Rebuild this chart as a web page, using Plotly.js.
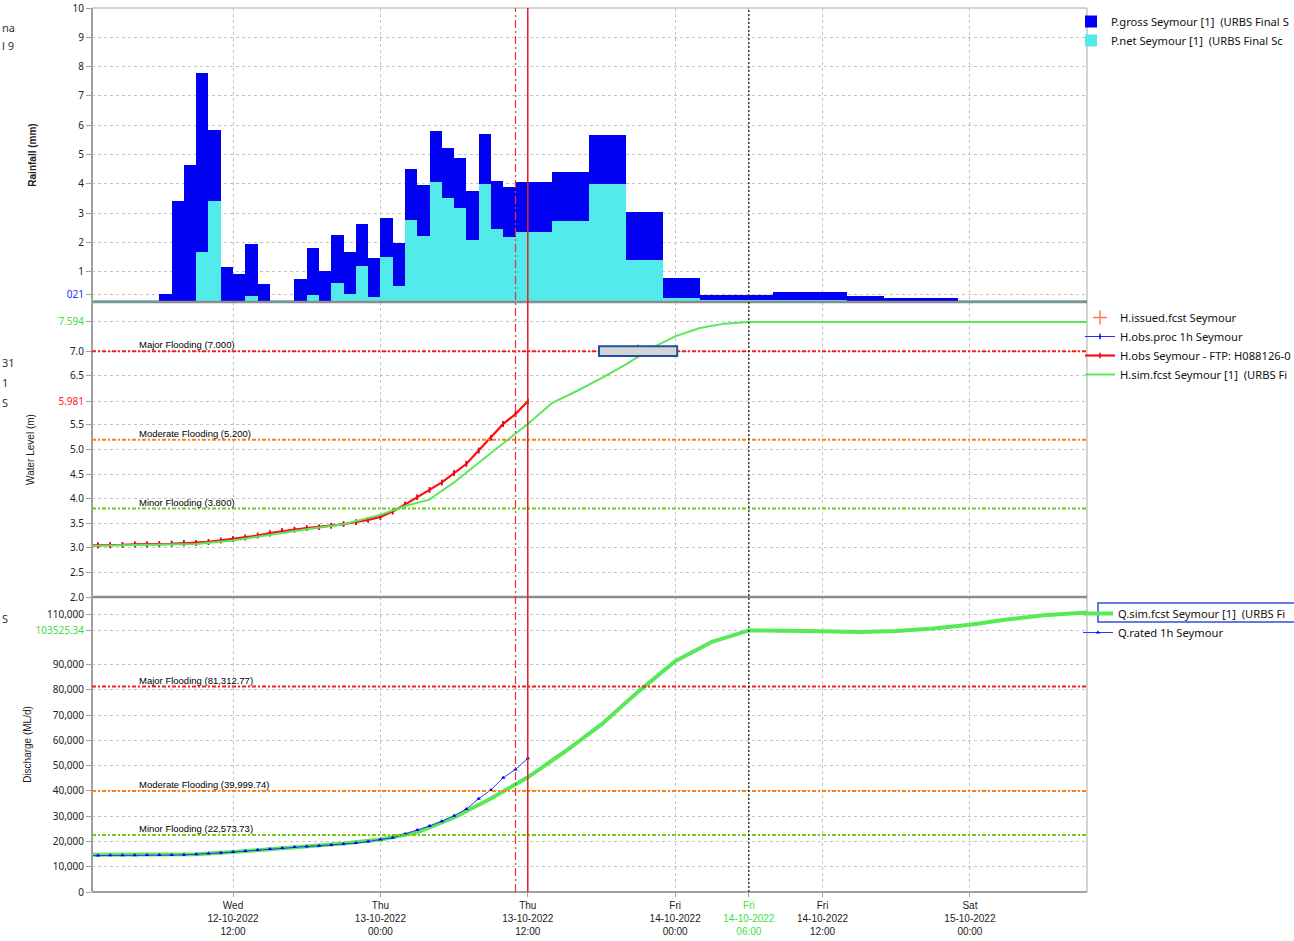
<!DOCTYPE html>
<html><head><meta charset="utf-8">
<script src="https://cdn.plot.ly/plotly-3.0.1.min.js"></script>
<style>html,body{margin:0;padding:0;background:#fff}#chart{width:1294px;height:941px}</style>
</head><body><div id="chart"></div>
<script>
// ---------------- DATA ----------------
// Rainfall periods (start time, duration in hours, gross mm, net mm)
const rainStart = ['2022-10-12 06:00','2022-10-12 07:00','2022-10-12 08:00','2022-10-12 09:00','2022-10-12 10:00','2022-10-12 11:00','2022-10-12 12:00','2022-10-12 13:00','2022-10-12 14:00','2022-10-12 17:00','2022-10-12 18:00','2022-10-12 19:00','2022-10-12 20:00','2022-10-12 21:00','2022-10-12 22:00','2022-10-12 23:00','2022-10-13 00:00','2022-10-13 01:00','2022-10-13 02:00','2022-10-13 03:00','2022-10-13 04:00','2022-10-13 05:00','2022-10-13 06:00','2022-10-13 07:00','2022-10-13 08:00','2022-10-13 09:00','2022-10-13 10:00','2022-10-13 11:00','2022-10-13 14:00','2022-10-13 17:00','2022-10-13 20:00','2022-10-13 23:00','2022-10-14 02:00','2022-10-14 08:00','2022-10-14 14:00','2022-10-14 17:00'];
const rainHours = [1,1,1,1,1,1,1,1,1,1,1,1,1,1,1,1,1,1,1,1,1,1,1,1,1,1,1,3,3,3,3,3,6,6,3,6];
const pGross = [0.25,3.41,4.66,7.77,5.84,1.18,0.92,1.96,0.59,0.74,1.81,1.03,2.25,1.67,2.62,1.48,2.85,2.00,4.51,3.96,5.81,5.22,4.88,3.77,5.69,4.10,3.89,4.07,4.40,5.66,3.03,0.80,0.20,0.32,0.16,0.10];
const pNet   = [0,0,0,1.67,3.41,0,0,0.18,0,0,0.21,0,0.62,0.26,1.21,0.15,1.49,0.50,2.77,2.23,4.07,3.51,3.18,2.09,4.00,2.45,2.18,2.37,2.74,3.99,1.41,0.12,0.03,0.03,0.02,0.02];

// Observed water level, hourly from 2022-10-12 00:00 (m)
const hObsStart = '2022-10-12 00:00';
const hObs = [3.05,3.05,3.06,3.06,3.07,3.07,3.08,3.08,3.09,3.10,3.12,3.15,3.18,3.21,3.25,3.30,3.34,3.37,3.40,3.42,3.45,3.48,3.52,3.57,3.63,3.74,3.88,4.03,4.18,4.33,4.52,4.71,4.98,5.24,5.52,5.72,5.981];
const hObsProc = [3.05,3.05,3.05,3.06,3.07,3.07,3.08,3.09,3.10,3.10,3.12,3.15,3.18,3.21,3.25,3.29,3.34,3.37,3.40,3.42,3.45,3.48,3.52,3.57,3.63,3.74,3.88,4.03,4.18,4.33,4.52,4.71,4.98,5.24,5.52,5.72,5.97];

// Simulated / forecast water level (m)
const hSimTime = ['2022-10-12 00:00','2022-10-12 06:00','2022-10-12 09:00','2022-10-12 12:00','2022-10-12 15:00','2022-10-12 18:00','2022-10-12 21:00','2022-10-13 00:00','2022-10-13 02:00','2022-10-13 04:00','2022-10-13 05:00','2022-10-13 06:00','2022-10-13 08:00','2022-10-13 10:00','2022-10-13 12:00','2022-10-13 14:00','2022-10-13 16:00','2022-10-13 18:00','2022-10-13 20:00','2022-10-13 22:00','2022-10-14 00:00','2022-10-14 02:00','2022-10-14 04:00','2022-10-14 06:00','2022-10-15 12:00'];
const hSim = [3.04,3.06,3.08,3.15,3.27,3.38,3.48,3.67,3.85,3.98,4.16,4.33,4.73,5.13,5.52,5.95,6.19,6.45,6.73,7.05,7.30,7.47,7.56,7.594,7.594];

// Issued forecast marker (m)
const issuedTime = ['2022-10-13 21:00'];
const issuedLevel = [7.0];

// Simulated / forecast discharge (ML/d)
const qSimTime = ['2022-10-12 00:00','2022-10-12 06:00','2022-10-12 09:00','2022-10-12 12:00','2022-10-12 15:00','2022-10-12 18:00','2022-10-12 21:00','2022-10-13 00:00','2022-10-13 03:00','2022-10-13 06:00','2022-10-13 09:00','2022-10-13 12:00','2022-10-13 15:00','2022-10-13 18:00','2022-10-13 21:00','2022-10-14 00:00','2022-10-14 03:00','2022-10-14 06:00','2022-10-14 09:00','2022-10-14 12:00','2022-10-14 15:00','2022-10-14 18:00','2022-10-14 21:00','2022-10-15 00:00','2022-10-15 03:00','2022-10-15 06:00','2022-10-15 10:00'];
const qSim = [14700,14700,14900,15800,17000,18300,19200,20800,23600,29500,37000,45400,55500,66300,79300,91300,99000,103500,103500,103200,102900,103300,104300,105800,107800,109500,110800];

// Rated discharge, hourly from 2022-10-12 00:00 (ML/d)
const qRatedStart = '2022-10-12 00:00';
const qRated = [14400,14400,14500,14500,14500,14600,14600,14600,14700,14900,15200,15500,15800,16200,16600,17000,17400,17800,18000,18300,18600,19000,19400,20000,20800,21500,23000,24500,26100,28000,30200,32800,36900,40400,45200,48500,52900];

// Series names (as visible in the legend, clipped at the window edge)
const seriesNames = {
  pGross:'P.gross Seymour [1]  (URBS Final S',
  pNet:'P.net Seymour [1]  (URBS Final Sc',
  hIssued:'H.issued.fcst Seymour',
  hObsProc:'H.obs.proc 1h Seymour',
  hObs:'H.obs Seymour - FTP: H088126-0',
  hSim:'H.sim.fcst Seymour [1]  (URBS Fi',
  qSim:'Q.sim.fcst Seymour [1]  (URBS Fi',
  qRated:'Q.rated 1h Seymour'
};

// Flood classification levels
const levelFlood = [{name:'Major Flooding', value:7.0, label:'7.000', color:'#ff1a1a'},
                    {name:'Moderate Flooding', value:5.2, label:'5.200', color:'#ff8010'},
                    {name:'Minor Flooding', value:3.8, label:'3.800', color:'#6ccc10'}];
const flowFlood = [{name:'Major Flooding', value:81312.77, label:'81,312.77', color:'#ff1a1a'},
                   {name:'Moderate Flooding', value:39999.74, label:'39,999.74', color:'#ff8010'},
                   {name:'Minor Flooding', value:22573.73, label:'22,573.73', color:'#6ccc10'}];

// Time markers
const forecastTime = '2022-10-13 12:00';
const issueLagTime = '2022-10-13 11:00';
const peakTime = '2022-10-14 06:00';
const issuedBox = {x0:'2022-10-13 17:48', x1:'2022-10-14 00:10', y0:6.9, y1:7.1};

// Axis ticks
const xRange = ['2022-10-12 00:31', '2022-10-15 09:32'];
const xTickVals = ['2022-10-12 12:00','2022-10-13 00:00','2022-10-13 12:00','2022-10-14 00:00','2022-10-14 06:00','2022-10-14 12:00','2022-10-15 00:00'];
const xTickDay = ['Wed','Thu','Thu','Fri','Fri','Fri','Sat'];
const xTickDate = ['12-10-2022','13-10-2022','13-10-2022','14-10-2022','14-10-2022','14-10-2022','15-10-2022'];
const xTickHour = ['12:00','00:00','12:00','00:00','06:00','12:00','00:00'];
const xTickHighlight = [false,false,false,false,true,false,false];

const rainTickVals = [0.21,1,2,3,4,5,6,7,8,9,10];
const rainTickText = ['<span style="color:#2030ff">021</span>','1','2','3','4','5','6','7','8','9','10'];
const levelTickVals = [2.0,2.5,3.0,3.5,4.0,4.5,5.0,5.5,5.981,6.5,7.0,7.594];
const levelTickText = ['2.0','2.5','3.0','3.5','4.0','4.5','5.0','5.5','<span style="color:#ff2020">5.981</span>','6.5','7.0','<span style="color:#3ee03e">7.594</span>'];
const flowTickVals = [0,10000,20000,30000,40000,50000,60000,70000,80000,90000,103525.34,110000];
const flowTickText = ['0','10,000','20,000','30,000','40,000','50,000','60,000','70,000','80,000','90,000','<span style="color:#3ee03e">103525.34</span>','110,000'];

// ---------------- HELPERS ----------------
function hourly(start, n) {
  const t0 = Date.parse(start.replace(' ', 'T') + ':00Z');
  const out = [];
  for (let i = 0; i < n; i++) out.push(new Date(t0 + i * 3600e3).toISOString().slice(0, 16).replace('T', ' '));
  return out;
}
const GREEN = '#58e858';
const H_MS = 3600e3;

// ---------------- TRACES ----------------
const traces = [
  {type:'bar', name:seriesNames.pGross, x:rainStart, y:pGross,
   width:rainHours.map(h => h*H_MS), offset:0, xaxis:'x', yaxis:'y3',
   marker:{color:'#0000f2', line:{width:0}}, legend:'legend'},
  {type:'bar', name:seriesNames.pNet, x:rainStart, y:pNet,
   width:rainHours.map(h => h*H_MS), offset:0, xaxis:'x', yaxis:'y3',
   marker:{color:'#52eaea', line:{width:0}}, legend:'legend'},

  {type:'scatter', mode:'markers', name:seriesNames.hIssued, x:issuedTime, y:issuedLevel,
   xaxis:'x', yaxis:'y2', legend:'legend2',
   marker:{symbol:'cross-thin', size:10, line:{color:'#ff7a5a', width:1.5}}},
  {type:'scatter', mode:'lines+markers', name:seriesNames.hObsProc, x:hourly(hObsStart, hObsProc.length), y:hObsProc,
   xaxis:'x', yaxis:'y2', legend:'legend2',
   line:{color:'#2a2aff', width:1}, marker:{symbol:'line-ns', size:4, line:{color:'#0000ff', width:1.5}}},
  {type:'scatter', mode:'lines+markers', name:seriesNames.hObs, x:hourly(hObsStart, hObs.length), y:hObs,
   xaxis:'x', yaxis:'y2', legend:'legend2',
   line:{color:'#ff1010', width:2.2}, marker:{symbol:'line-ns', size:4, line:{color:'#ff0000', width:1.5}}},
  {type:'scatter', mode:'lines', name:seriesNames.hSim, x:hSimTime, y:hSim,
   xaxis:'x', yaxis:'y2', legend:'legend2', line:{color:GREEN, width:2}},

  {type:'scatter', mode:'lines', name:seriesNames.qSim, x:qSimTime, y:qSim,
   xaxis:'x', yaxis:'y', legend:'legend3', line:{color:GREEN, width:4}},
  {type:'scatter', mode:'lines+markers', name:seriesNames.qRated, x:hourly(qRatedStart, qRated.length), y:qRated,
   xaxis:'x', yaxis:'y', legend:'legend3',
   line:{color:'#3333ff', width:1}, marker:{symbol:'triangle-up', size:4, color:'#0000ff'}}
];

// ---------------- LAYOUT ----------------
const D1 = 295/884, D2 = 590/884;   // panel boundaries (paper fraction)
const gridCommon = {showgrid:true, gridcolor:'#c4c4c4', griddash:'dot', gridwidth:1,
  ticks:'outside', ticklen:5, tickcolor:'#a0a0a0', zeroline:false, showline:false,
  tickfont:{family:'Noto Sans', size:10, color:'#222'}, tickmode:'array', fixedrange:true};
const titleFont = {family:'Liberation Sans', size:10, color:'#222'};

const shapes = [];
// panel frames
[[0, D1], [D1, D2], [D2, 1]].forEach(d => shapes.push({type:'rect', xref:'paper', yref:'paper', x0:0, x1:1, y0:d[0], y1:d[1],
  line:{color:'#a8a8a8', width:1}, layer:'above'}));
// panel separators and left/bottom axis lines
[D1, D2].forEach(v => shapes.push({type:'line', xref:'paper', yref:'paper', x0:0, x1:1, y0:v, y1:v, line:{color:'#8c8c8c', width:2.5}, layer:'above'}));
shapes.push({type:'line', xref:'paper', yref:'paper', x0:0, x1:0, y0:0, y1:1, line:{color:'#a0a0a0', width:2}, layer:'above'});
shapes.push({type:'line', xref:'paper', yref:'paper', x0:0, x1:1, y0:0, y1:0, line:{color:'#a0a0a0', width:2}, layer:'above'});
// flood lines
levelFlood.forEach(f => shapes.push({type:'line', xref:'paper', yref:'y2', x0:0, x1:1, y0:f.value, y1:f.value,
  line:{color:f.color, width:2, dash:'4px,2px,2px,2px'}, layer:'above'}));
flowFlood.forEach(f => shapes.push({type:'line', xref:'paper', yref:'y', x0:0, x1:1, y0:f.value, y1:f.value,
  line:{color:f.color, width:2, dash:'4px,2px,2px,2px'}, layer:'above'}));
// vertical markers
shapes.push({type:'line', xref:'x', yref:'paper', x0:issueLagTime, x1:issueLagTime, y0:0, y1:1, line:{color:'#e23535', width:1.2, dash:'8px,3px,2px,3px'}, layer:'above'});
shapes.push({type:'line', xref:'x', yref:'paper', x0:forecastTime, x1:forecastTime, y0:0, y1:1, line:{color:'#e02020', width:1.5}, layer:'above'});
shapes.push({type:'line', xref:'x', yref:'paper', x0:peakTime, x1:peakTime, y0:0, y1:1, line:{color:'#222', width:1.3, dash:'2px,2px'}, layer:'above'});
// issued forecast box
shapes.push({type:'rect', xref:'x', yref:'y2', x0:issuedBox.x0, x1:issuedBox.x1, y0:issuedBox.y0, y1:issuedBox.y1,
  fillcolor:'#d4d4d4', line:{color:'#1d4fa8', width:2}, layer:'above'});
// legend selection box for Q.sim
shapes.push({type:'rect', xref:'paper', yref:'paper', x0:(1098-92)/995, x1:(1300-92)/995, y0:(892-622)/884, y1:(892-603)/884,
  line:{color:'#2f4fd8', width:1.5}, fillcolor:'rgba(0,0,0,0)', layer:'above'});

const annotations = [];
const labelX = (137-92)/995;
levelFlood.forEach(f => annotations.push({xref:'paper', yref:'y2', x:labelX, y:f.value, xanchor:'left', yanchor:'bottom',
  text:f.name + ' (' + f.label + ')', showarrow:false, font:{family:'Liberation Sans', size:9.5, color:'#000'}, yshift:-1}));
flowFlood.forEach(f => annotations.push({xref:'paper', yref:'y', x:labelX, y:f.value, xanchor:'left', yanchor:'bottom',
  text:f.name + ' (' + f.label + ')', showarrow:false, font:{family:'Liberation Sans', size:9.5, color:'#000'}, yshift:-1}));
// fragments of clipped text at the left edge
const leftFrags = [['na',27],['l 9',46],['31',362],['1',382],['S',403],['S',618]];
leftFrags.forEach(f => annotations.push({xref:'paper', yref:'paper', x:-92/995, y:(892-f[1])/884, xanchor:'left', yanchor:'middle',
  xshift:0, text:f[0], showarrow:false, font:{family:'Noto Sans', size:11, color:'#333'}}));

const xTickText = xTickVals.map((v,i) => {
  const parts = [xTickDay[i], xTickDate[i], xTickHour[i]];
  return xTickHighlight[i] ? parts.map(p => '<span style="color:#3ee03e">' + p + '</span>').join('<br>') : parts.join('<br>');
});

const legendCommon = {bgcolor:'rgba(0,0,0,0)', borderwidth:0, font:{family:'Noto Sans', size:11.2, color:'#111'},
  xanchor:'left', yanchor:'top', orientation:'v', itemclick:false, itemdoubleclick:false};

const layout = {
  width:1294, height:941,
  margin:{l:92, r:207, t:8, b:49, pad:0, autoexpand:false},
  paper_bgcolor:'#ffffff', plot_bgcolor:'rgba(0,0,0,0)',
  font:{family:'Liberation Sans', size:10, color:'#222'},
  barmode:'overlay', bargap:0,
  showlegend:true,
  xaxis:{type:'date', range:xRange, anchor:'y', tickmode:'array', tickvals:xTickVals, ticktext:xTickText,
    showgrid:true, gridcolor:'#c4c4c4', griddash:'dot', ticks:'outside', ticklen:4, tickcolor:'#a0a0a0',
    zeroline:false, showline:false, tickfont:{family:'Liberation Sans', size:10, color:'#222'}, fixedrange:true},
  yaxis:Object.assign({}, gridCommon, {domain:[0, D1], range:[0, 116740], anchor:'x', tickvals:flowTickVals, ticktext:flowTickText,
    title:{text:'Discharge (ML/d)', font:titleFont, standoff:2}}),
  yaxis2:Object.assign({}, gridCommon, {domain:[D1, D2], range:[2, 8], anchor:'x', tickvals:levelTickVals, ticktext:levelTickText,
    title:{text:'Water Level (m)', font:titleFont, standoff:21}}),
  yaxis3:Object.assign({}, gridCommon, {domain:[D2, 1], range:[-0.03, 10], anchor:'x', tickvals:rainTickVals, ticktext:rainTickText,
    zeroline:true, zerolinecolor:'#52eaea', zerolinewidth:2,
    title:{text:'<b>Rainfall (mm)</b>', font:titleFont, standoff:28}}),
  legend:Object.assign({}, legendCommon, {x:(1071-92)/995, y:(892-7)/884}),
  legend2:Object.assign({}, legendCommon, {x:(1080-92)/995, y:(892-303)/884}),
  legend3:Object.assign({}, legendCommon, {x:(1078-92)/995, y:(892-599)/884}),
  shapes:shapes,
  annotations:annotations
};

Plotly.newPlot('chart', traces, layout, {displayModeBar:false, staticPlot:true});
</script>
</body></html>
